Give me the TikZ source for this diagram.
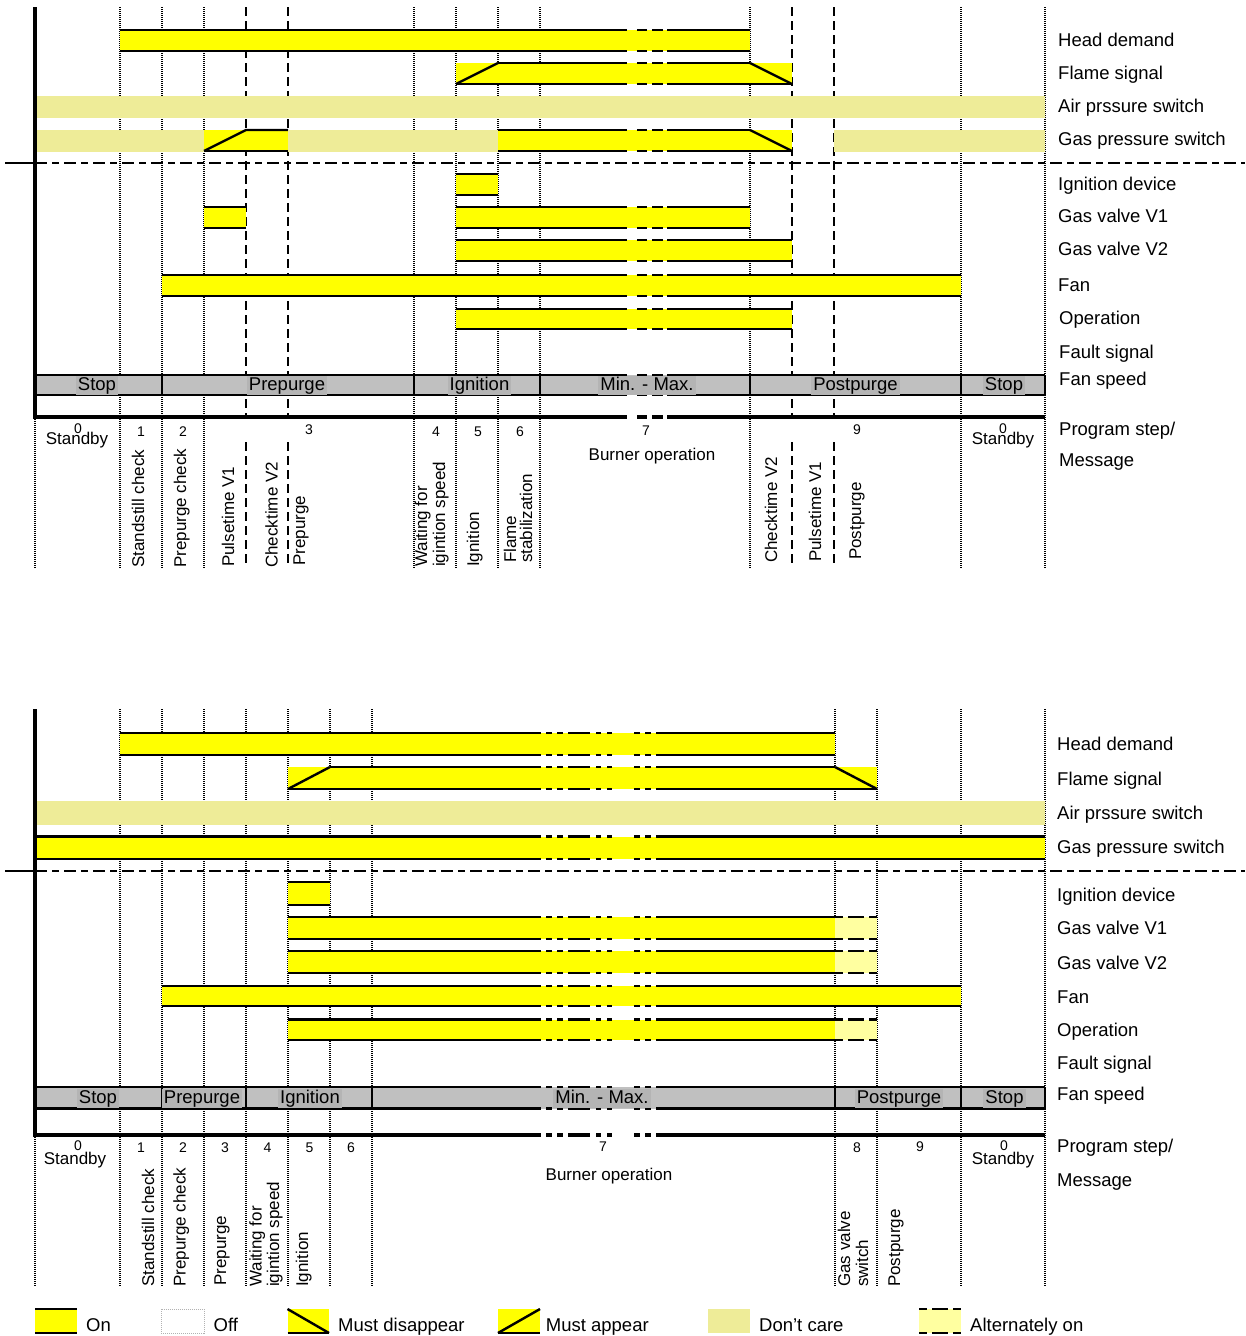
\documentclass[tikz,border=0pt]{standalone}
\usepackage{fontspec}
\setmainfont{Liberation Sans}
\definecolor{yel}{RGB}{255,255,0}
\definecolor{dcare}{RGB}{238,236,152}
\definecolor{altyel}{RGB}{255,255,160}
\definecolor{bargray}{RGB}{192,192,192}
\definecolor{phbg}{RGB}{180,180,180}
\newcommand\brkS{627}
\newcommand\brkE{667}
\newcommand\hlin[3]{\draw[bl] (#1,#3) -- (#2,#3);}
\newcommand\hlbrk[4][]{\draw[bl,#1] (#2,#4) -- (\brkS,#4); \draw[bl,brk,#1] (\brkS,#4) -- (\brkE,#4); \draw[bl,#1] (\brkE,#4) -- (#3,#4);}
\newcommand\onbar[4]{\fill[yel] (#1,#3) rectangle (#2,#4); \hlin{#1}{#2}{#3}\hlin{#1}{#2}{#4}}
\newcommand\onbarb[4]{\fill[yel] (#1,#3) rectangle (#2,#4); \hlbrk{#1}{#2}{#3}\hlbrk{#1}{#2}{#4}}
\newcommand\dcbar[4]{\fill[dcare] (#1,#3) rectangle (#2,#4);}
\newcommand\altbar[4]{\fill[altyel] (#1,#3) rectangle (#2,#4); \draw[bl,altd] (#1,#3) -- (#2,#3); \draw[bl,altd] (#1,#4) -- (#2,#4);}
\tikzset{
 bl/.style={line width=2.4pt, line cap=butt},
 thick line/.style={line width=3.5pt, line cap=butt},
 gdot/.style={line width=1.6pt, dash pattern=on 1.2pt off 0.8pt},
 gdash/.style={line width=2pt, dash pattern=on 9pt off 5pt},
 sepline/.style={line width=1.8pt, dash pattern=on 12pt off 5pt on 7pt off 5pt},
 altd/.style={dash pattern=on 8pt off 5pt on 16pt off 5pt},
 brk/.style={dash pattern=on 0pt off 10pt on 10pt off 5pt on 11pt off 4pt},
 lab/.style={font=\fontsize{18.5}{20}\selectfont, anchor=base west, inner sep=0pt},
 rot/.style={font=\fontsize{17}{19}\selectfont, rotate=90, anchor=base west, inner sep=0pt},
 num/.style={font=\fontsize{14}{16}\selectfont, anchor=base, inner sep=0pt},
 txt/.style={font=\fontsize{17}{19}\selectfont, anchor=base, inner sep=0pt},
 phase/.style={font=\fontsize{18.5}{20}\selectfont, anchor=base, fill=phbg, inner xsep=2pt, inner ysep=1pt, text height=13.5pt, text depth=3.5pt},
 leg/.style={font=\fontsize{18.5}{20}\selectfont, anchor=base west, inner sep=0pt},
}
\begin{document}
\begin{tikzpicture}[x=1pt,y=-1pt]
\useasboundingbox (0,0) rectangle (1245,1336);
\fill[white] (0,0) rectangle (1245,1336);

% ================= TOP DIAGRAM =================
% grid
\foreach \x in {120,162,204,414,456,498,540,750,961,1045} \draw[gdot] (\x,7) -- (\x,568);
\draw[gdot] (35,419) -- (35,568);
\foreach \x in {246,288,792,834} {\draw[gdash] (\x,7) -- (\x,417); \draw[gdash] (\x,442) -- (\x,566);}
% separator
\draw[line width=1.8pt] (5,163) -- (35,163);
\draw[sepline] (35,163) -- (1245,163);
% head demand
\onbarb{120}{750}{30}{51}
% flame signal
\fill[yel] (456,63) rectangle (792,84);
\draw[bl] (456,84) -- (498,63); \hlbrk{498}{750}{63} \draw[bl] (750,63) -- (792,84); \hlbrk{456}{792}{84}
% air pressure switch
\dcbar{37}{1045}{96}{118}
% gas pressure switch
\dcbar{37}{204}{129.5}{151.5}
\fill[yel] (204,130) rectangle (288,151);
\draw[bl] (204,151) -- (246,130) -- (288,130); \hlin{204}{288}{151}
\dcbar{288}{498}{129.5}{151.5}
\fill[yel] (498,130) rectangle (792,151);
\hlbrk{498}{750}{130} \draw[bl] (750,130) -- (792,151); \hlbrk{498}{792}{151}
\dcbar{834}{1045}{129.5}{151.5}
% ignition device
\onbar{456}{498}{174}{195}
% gas valve V1
\onbar{204}{246}{207}{228}
\onbarb{456}{750}{207}{228}
% gas valve V2
\onbarb{456}{792}{240}{261}
% fan
\onbarb{162}{961}{275}{296}
% operation
\onbarb{456}{792}{309}{329}
% fan speed bar
\fill[bargray] (35,375) rectangle (1045,395);
\hlbrk{35}{1045}{375} \hlbrk{35}{1045}{395}
\foreach \x in {162,414,540,750,961,1045} \draw[bl] (\x,375) -- (\x,395);
\hlbrk[thick line]{35}{1045}{417}
\draw[thick line] (35,7) -- (35,419);
% phases
\node[phase] (tp1) at (97,390) {Stop};
\node[phase] (tp2) at (287,390) {Prepurge};
\node[phase] (tp3) at (479.5,390) {Ignition};
\node[phase] (tp4) at (647,390) {Min. - Max.};
\node[phase] (tp5) at (855.5,390) {Postpurge};
\node[phase] (tp6) at (1004,390) {Stop};
% numbers
\node[num] (tn0) at (78,433) {0};
\node[txt] (tsb) at (77,444) {Standby};
\node[num] (tn1) at (141,436) {1};
\node[num] (tn2) at (183,436) {2};
\node[num] (tn3) at (309,434) {3};
\node[num] (tn4) at (436,436) {4};
\node[num] (tn5) at (478,436) {5};
\node[num] (tn6) at (520,436) {6};
\node[num] (tn7) at (646,435) {7};
\node[num] (tn9) at (857,434) {9};
\node[num] (tn10) at (1003,433) {0};
\node[txt] (tsb2) at (1003,444) {Standby};
\node[txt] (tbo) at (652,460) {Burner operation};
% rotated
\node[rot] (tr1) at (144,568) {Standstill check};
\node[rot] (tr2) at (186,568) {Prepurge check};
\node[rot] (tr3) at (234,567) {Pulsetime V1};
\node[rot] (tr4) at (277.5,568) {Checktime V2};
\node[rot] (tr5) at (305,566) {Prepurge};
\node[rot] (tr6) at (427,567) {Waiting for};
\node[rot] (tr7) at (445,567) {igintion speed};
\node[rot] (tr8) at (479,567) {Ignition};
\node[rot] (tr9) at (516,563) {Flame};
\node[rot] (tr10) at (532,563) {stabilization};
\node[rot] (tr11) at (777,563) {Checktime V2};
\node[rot] (tr12) at (821,562) {Pulsetime V1};
\node[rot] (tr13) at (861,560) {Postpurge};
% right labels
\node[lab] (tl1) at (1058,46.7) {Head demand};
\node[lab] (tl2) at (1058,79.5) {Flame signal};
\node[lab] (tl3) at (1058,112) {Air prssure switch};
\node[lab] (tl4) at (1058,145) {Gas pressure switch};
\node[lab] (tl5) at (1058,190) {Ignition device};
\node[lab] (tl6) at (1058,222.6) {Gas valve V1};
\node[lab] (tl7) at (1058,255.6) {Gas valve V2};
\node[lab] (tl8) at (1058,291.6) {Fan};
\node[lab] (tl9) at (1059,324) {Operation};
\node[lab] (tl10) at (1059,358.3) {Fault signal};
\node[lab] (tl11) at (1059,385) {Fan speed};
\node[lab] (tl12) at (1059,435) {Program step/};
\node[lab] (tl13) at (1059,466.6) {Message};

% ================= BOTTOM DIAGRAM =================
\renewcommand\brkS{541}
\tikzset{brk/.style={dash pattern=on 0pt off 5pt on 6pt off 5pt on 6pt off 5pt on 17pt}}
\foreach \x in {120,162,204,246,288,330,372,835,877,961,1045} \draw[gdot] (\x,709) -- (\x,1286);
\draw[gdot] (35,1137) -- (35,1286);
\draw[line width=1.8pt] (5,871) -- (35,871);
\draw[sepline] (35,871) -- (1245,871);
% head demand
\onbarb{120}{835}{733}{755}
% flame signal
\fill[yel] (288,767) rectangle (877,789);
\draw[bl] (288,789) -- (330,767); \hlbrk{330}{835}{767} \draw[bl] (835,767) -- (877,789); \hlbrk{288}{877}{789}
% air pressure
\dcbar{37}{1045}{801}{825}
% gas pressure
\onbarb{35}{1045}{836.5}{859}
% ignition device
\onbar{288}{330}{882}{905}
% gas valves
\onbarb{288}{835}{917}{939} \altbar{835}{877}{917}{939}
\onbarb{288}{835}{951}{973} \altbar{835}{877}{951}{973}
% fan
\onbarb{162}{961}{986}{1006}
% operation
\onbarb{288}{835}{1019.5}{1040} \altbar{835}{877}{1019.5}{1040}
% fan speed
\fill[bargray] (35,1087) rectangle (1045,1108.5);
\hlbrk{35}{1045}{1087} \hlbrk{35}{1045}{1108.5}
\foreach \x in {162,246,372,835,961,1045} \draw[bl] (\x,1087) -- (\x,1108.5);
\hlbrk[thick line]{35}{1045}{1135}
\draw[thick line] (35,709) -- (35,1137);
% phases
\node[phase] (bp1) at (98,1103.5) {Stop};
\node[phase] (bp2) at (202,1103.5) {Prepurge};
\node[phase] (bp3) at (310,1103.5) {Ignition};
\node[phase] (bp4) at (602,1103.5) {Min. - Max.};
\node[phase] (bp5) at (899,1103.5) {Postpurge};
\node[phase] (bp6) at (1004.5,1103.5) {Stop};
% numbers
\node[num] (bn0) at (78,1150) {0};
\node[txt] (bsb) at (75,1164) {Standby};
\node[num] (bn1) at (141,1152) {1};
\node[num] (bn2) at (183,1152) {2};
\node[num] (bn3) at (225,1152) {3};
\node[num] (bn4) at (267.5,1152) {4};
\node[num] (bn5) at (309.5,1152) {5};
\node[num] (bn6) at (351,1152) {6};
\node[num] (bn7) at (603,1151) {7};
\node[num] (bn8) at (857,1152) {8};
\node[num] (bn9) at (920,1151) {9};
\node[num] (bn10) at (1004,1150) {0};
\node[txt] (bsb2) at (1003,1164) {Standby};
\node[txt] (bbo) at (609,1180) {Burner operation};
% rotated
\node[rot] (br1) at (154,1287) {Standstill check};
\node[rot] (br2) at (185.5,1287) {Prepurge check};
\node[rot] (br3) at (226,1286) {Prepurge};
\node[rot] (br4) at (261.5,1287) {Waiting for};
\node[rot] (br5) at (279,1287) {igintion speed};
\node[rot] (br6) at (308,1287) {Ignition};
\node[rot] (br7) at (850,1287) {Gas valve};
\node[rot] (br8) at (868,1287) {switch};
\node[rot] (br9) at (900,1287) {Postpurge};
% right labels
\node[lab] (bl1) at (1057,750.6) {Head demand};
\node[lab] (bl2) at (1057,785.6) {Flame signal};
\node[lab] (bl3) at (1057,819.3) {Air prssure switch};
\node[lab] (bl4) at (1057,853.3) {Gas pressure switch};
\node[lab] (bl5) at (1057,901) {Ignition device};
\node[lab] (bl6) at (1057,934) {Gas valve V1};
\node[lab] (bl7) at (1057,969) {Gas valve V2};
\node[lab] (bl8) at (1057,1003.3) {Fan};
\node[lab] (bl9) at (1057,1036) {Operation};
\node[lab] (bl10) at (1057,1069.3) {Fault signal};
\node[lab] (bl11) at (1057,1100.6) {Fan speed};
\node[lab] (bl12) at (1057,1152.6) {Program step/};
\node[lab] (bl13) at (1057,1186) {Message};

% ================= LEGEND =================
\fill[yel] (35,1309) rectangle (77,1333);
\draw[bl] (35,1309) -- (77,1309); \draw[bl] (35,1333) -- (77,1333);
\node[leg] (lg1) at (86,1331) {On};
\draw[gray!60, line width=1pt, dash pattern=on 1pt off 1pt] (161,1309) rectangle (204,1333);
\node[leg] (lg2) at (213.5,1331) {Off};
\fill[yel] (287.5,1309) rectangle (329,1333);
\draw[bl] (287.5,1309) -- (329,1333); \draw[bl] (287.5,1333) -- (329,1333);
\node[leg] (lg3) at (338,1331) {Must disappear};
\fill[yel] (498,1309) rectangle (540,1333);
\draw[bl] (498,1333) -- (540,1309); \draw[bl] (498,1333) -- (540,1333);
\node[leg] (lg4) at (545.7,1331) {Must appear};
\fill[dcare] (708,1309) rectangle (750,1333);
\node[leg] (lg5) at (759,1331) {Don’t care};
\altbar{919}{961}{1309}{1333}
\node[leg] (lg6) at (970,1331) {Alternately on};
\end{tikzpicture}
\end{document}
